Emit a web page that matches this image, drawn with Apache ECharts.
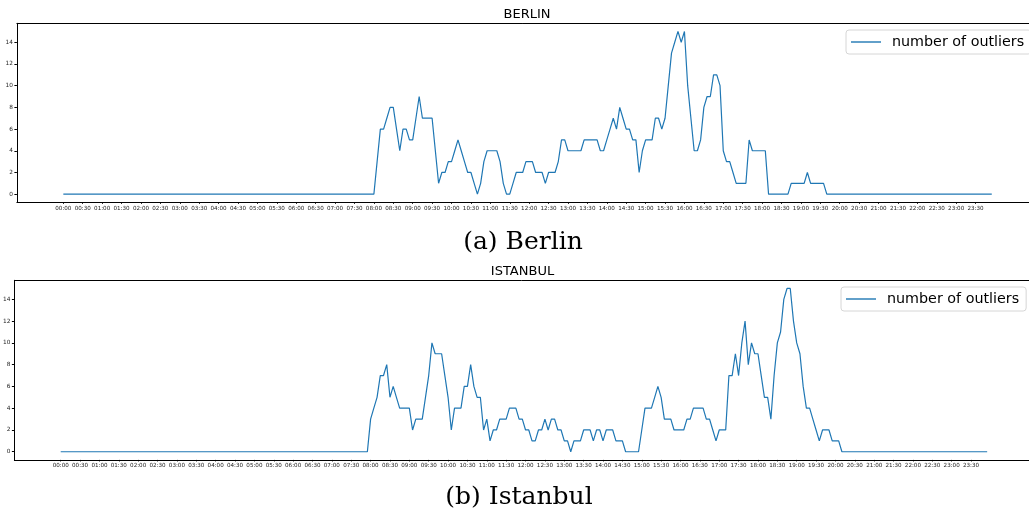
<!DOCTYPE html>
<html><head><meta charset="utf-8">
<script src="https://cdn.jsdelivr.net/npm/echarts@6.0.0/dist/echarts.min.js"></script>
<style>html,body{margin:0;padding:0;background:#fff}#c{width:1029px;height:512px}</style>
</head><body><div id="c"></div><script>
// tick labels: one every 30 minutes (every 6th 5-minute sample)
const timeTickLabels = [
  '00:00','00:30','01:00','01:30','02:00','02:30','03:00','03:30','04:00','04:30','05:00','05:30',
  '06:00','06:30','07:00','07:30','08:00','08:30','09:00','09:30','10:00','10:30','11:00','11:30',
  '12:00','12:30','13:00','13:30','14:00','14:30','15:00','15:30','16:00','16:30','17:00','17:30',
  '18:00','18:30','19:00','19:30','20:00','20:30','21:00','21:30','22:00','22:30','23:00','23:30'
];
const yTickValues = [0, 2, 4, 6, 8, 10, 12, 14];
const seriesName = 'number of outliers';
const panelTitles = ['BERLIN', 'ISTANBUL'];
const captions = ['(a) Berlin', '(b) Istanbul'];

// 5-minute samples, one row per hour (12 values)
const berlinOutliers = [
  0,0,0,0,0,0,0,0,0,0,0,0,   // 00
  0,0,0,0,0,0,0,0,0,0,0,0,   // 01
  0,0,0,0,0,0,0,0,0,0,0,0,   // 02
  0,0,0,0,0,0,0,0,0,0,0,0,   // 03
  0,0,0,0,0,0,0,0,0,0,0,0,   // 04
  0,0,0,0,0,0,0,0,0,0,0,0,   // 05
  0,0,0,0,0,0,0,0,0,0,0,0,   // 06
  0,0,0,0,0,0,0,0,0,0,0,0,   // 07
  0,3,6,6,7,8,8,6,4,6,6,5,   // 08
  5,7,9,7,7,7,7,4,1,2,2,3,   // 09
  3,4,5,4,3,2,2,1,0,1,3,4,   // 10
  4,4,4,3,1,0,0,1,2,2,2,3,   // 11
  3,3,2,2,2,1,2,2,2,3,5,5,   // 12
  4,4,4,4,4,5,5,5,5,5,4,4,   // 13
  5,6,7,6,8,7,6,6,5,5,2,4,   // 14
  5,5,5,7,7,6,7,10,13,14,15,14, // 15
  15,10,7,4,4,5,8,9,9,11,11,10, // 16
  4,3,3,2,1,1,1,1,5,4,4,4,   // 17
  4,4,0,0,0,0,0,0,0,1,1,1,   // 18
  1,1,2,1,1,1,1,1,0,0,0,0,   // 19
  0,0,0,0,0,0,0,0,0,0,0,0,   // 20
  0,0,0,0,0,0,0,0,0,0,0,0,   // 21
  0,0,0,0,0,0,0,0,0,0,0,0,   // 22
  0,0,0,0,0,0,0,0,0,0,0,0    // 23
];
const istanbulOutliers = [
  0,0,0,0,0,0,0,0,0,0,0,0,   // 00
  0,0,0,0,0,0,0,0,0,0,0,0,   // 01
  0,0,0,0,0,0,0,0,0,0,0,0,   // 02
  0,0,0,0,0,0,0,0,0,0,0,0,   // 03
  0,0,0,0,0,0,0,0,0,0,0,0,   // 04
  0,0,0,0,0,0,0,0,0,0,0,0,   // 05
  0,0,0,0,0,0,0,0,0,0,0,0,   // 06
  0,0,0,0,0,0,0,0,0,0,0,0,   // 07
  3,4,5,7,7,8,5,6,5,4,4,4,   // 08
  4,2,3,3,3,5,7,10,9,9,9,7,  // 09
  5,2,4,4,4,6,6,8,6,5,5,2,   // 10
  3,1,2,2,3,3,3,4,4,4,3,3,   // 11
  2,2,1,1,2,2,3,2,3,3,2,2,   // 12
  1,1,0,1,1,1,2,2,2,1,2,2,   // 13
  1,2,2,2,1,1,1,0,0,0,0,0,   // 14
  2,4,4,4,5,6,5,3,3,3,2,2,   // 15
  2,2,3,3,4,4,4,4,3,3,2,1,   // 16
  2,2,2,7,7,9,7,10,12,8,10,9, // 17
  9,7,5,5,3,7,10,11,14,15,15,12, // 18
  10,9,6,4,4,3,2,1,2,2,2,1,  // 19
  1,1,0,0,0,0,0,0,0,0,0,0,   // 20
  0,0,0,0,0,0,0,0,0,0,0,0,   // 21
  0,0,0,0,0,0,0,0,0,0,0,0,   // 22
  0,0,0,0,0,0,0,0,0,0,0,0    // 23
];

const SAMPLES_PER_TICK = 6;
const xTickPositions = timeTickLabels.map((_, k) => k * SAMPLES_PER_TICK);
const nPts = berlinOutliers.length;
const xPad = (nPts - 1) * 0.05;
const yPad = 15 * 0.05;
const FONT = 'DejaVu Sans';
const LINE_COLOR = '#1f77b4';
const W = 1029;

// panel geometry: left spine, top spine, plot height, px per sample (right spine lies off-canvas)
const panels = [
  { left: 16.9, top: 23.3, height: 179, pxPerSample: 3.235 },
  { left: 11.9, top: 280.3, height: 179.6, pxPerSample: 3.236 }
];

function xMaxFor(p) { return -xPad + (W - p.left) / p.pxPerSample; }

function xAxisCfg(gi) {
  return {
    type: 'value', gridIndex: gi, min: -xPad, max: xMaxFor(panels[gi]),
    axisLine: { show: true, onZero: false, lineStyle: { color: '#000', width: 1 } },
    axisTick: { show: true, customValues: xTickPositions, length: 1.5, lineStyle: { color: '#000' } },
    axisLabel: { customValues: xTickPositions, margin: 3, fontSize: 5.6, fontFamily: FONT, color: '#222',
      formatter: v => timeTickLabels[Math.round(v / SAMPLES_PER_TICK)] },
    splitLine: { show: false }
  };
}
function topSpineCfg(gi) {
  return {
    type: 'value', gridIndex: gi, position: 'top', min: -xPad, max: xMaxFor(panels[gi]),
    axisLine: { show: true, onZero: false, lineStyle: { color: '#000', width: 1 } },
    axisTick: { show: false }, axisLabel: { show: false }, splitLine: { show: false }
  };
}
function yAxisCfg(gi) {
  return {
    type: 'value', gridIndex: gi, min: -yPad, max: 15 + yPad,
    axisLine: { show: true, onZero: false, lineStyle: { color: '#000', width: 1 } },
    axisTick: { show: true, customValues: yTickValues, length: 2.5, lineStyle: { color: '#000' } },
    axisLabel: { customValues: yTickValues, margin: 4, fontSize: 5.8, fontFamily: FONT, color: '#222' },
    splitLine: { show: false }
  };
}
function legendCfg(left, top) {
  return {
    left: left, top: top, data: [{ name: seriesName, icon: 'rect' }],
    padding: [5, 7, 5, 5], itemWidth: 30, itemHeight: 1.4,
    borderColor: '#d6d6d6', borderWidth: 1, borderRadius: 3, backgroundColor: '#fff',
    textStyle: { fontSize: 14.3, fontFamily: FONT, color: '#000', padding: [0, 0, 0, 6] }
  };
}
function seriesCfg(gi, vals) {
  return {
    name: seriesName, type: 'line', xAxisIndex: gi, yAxisIndex: gi,
    data: vals.map((v, i) => [i, v]), symbol: 'none', showSymbol: false,
    lineStyle: { color: LINE_COLOR, width: 1.2 }, itemStyle: { color: LINE_COLOR },
    animation: false
  };
}
function textEl(str, x, y, font) {
  return { type: 'text', silent: true, x: x, y: y,
    style: { text: str, font: font, fill: '#000', textAlign: 'center', textVerticalAlign: 'middle' } };
}

const chart = echarts.init(document.getElementById('c'), null, { renderer: 'canvas' });
chart.setOption({
  backgroundColor: '#fff',
  animation: false,
  grid: panels.map(p => ({ left: p.left, top: p.top, right: 0, height: p.height, show: false })),
  xAxis: [xAxisCfg(0), xAxisCfg(1), topSpineCfg(0), topSpineCfg(1)],
  yAxis: [yAxisCfg(0), yAxisCfg(1)],
  legend: [legendCfg(846, 30), legendCfg(841, 287)],
  series: [seriesCfg(0, berlinOutliers), seriesCfg(1, istanbulOutliers)],
  graphic: [
    textEl(panelTitles[0], 527, 15, '13px "DejaVu Sans"'),
    textEl(panelTitles[1], 522.5, 272, '13px "DejaVu Sans"'),
    textEl(captions[0], 523, 242, '25px "DejaVu Serif"'),
    textEl(captions[1], 519, 497, '25px "DejaVu Serif"')
  ]
});
</script></body></html>
